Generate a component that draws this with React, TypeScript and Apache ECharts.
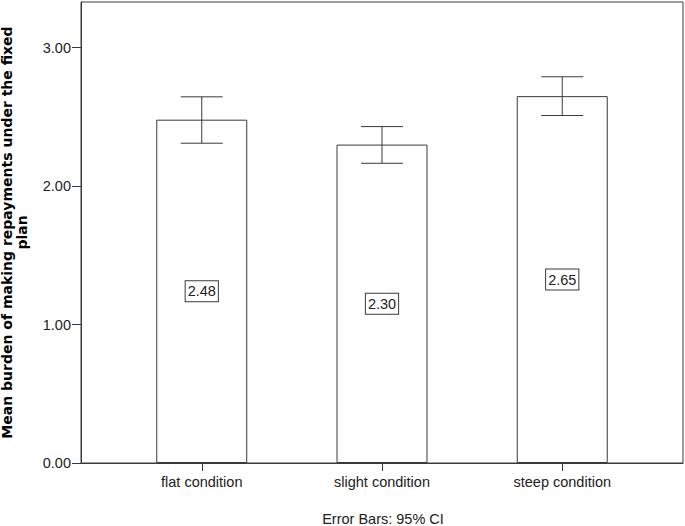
import React, { useEffect, useRef } from "react";
import * as echarts from "echarts";

const categories = ["flat condition", "slight condition", "steep condition"];
const means = [2.48, 2.3, 2.65];
const ciLower = [2.31, 2.165, 2.51];
const ciUpper = [2.645, 2.43, 2.79];
const yTicks = [0, 1, 2, 3];
const yTitle = "Mean burden of making repayments under the fixed\nplan";
const footnote = "Error Bars: 95% CI";

export default function App() {
  const ref = useRef<HTMLDivElement>(null);
  useEffect(() => {
    if (!ref.current) return;
    const chart = echarts.init(ref.current, undefined, { renderer: "svg" });
    const axisColor = "#3a3a3a";
    const textColor = "#222";
    const font = "Liberation Sans";
    chart.setOption({
      animation: false,
      grid: {
        left: 81,
        right: 2,
        top: 2,
        bottom: 63,
        containLabel: false,
        outerBoundsMode: "none",
        show: true,
        borderColor: axisColor,
        borderWidth: 1,
        backgroundColor: "transparent",
      },
      xAxis: {
        type: "value",
        min: -0.67,
        max: 2.67,
        splitLine: { show: false },
        axisLine: { show: true, onZero: false, lineStyle: { color: axisColor, width: 1 } },
        axisTick: {
          show: true,
          length: 8,
          customValues: categories.map((_, i) => i),
          lineStyle: { color: axisColor },
        },
        axisLabel: {
          customValues: categories.map((_, i) => i),
          formatter: (v: number) => categories[Math.round(v)] ?? "",
          margin: 11,
          color: textColor,
          fontFamily: font,
          fontSize: 14.5,
        },
      },
      yAxis: {
        type: "value",
        min: 0,
        max: 3.33,
        interval: 1,
        splitLine: { show: false },
        axisLine: { show: true, onZero: false, lineStyle: { color: axisColor, width: 1 } },
        axisTick: {
          show: true,
          length: 9,
          customValues: yTicks,
          lineStyle: { color: axisColor },
        },
        axisLabel: {
          customValues: yTicks,
          formatter: (v: number) => v.toFixed(2),
          margin: 10,
          color: textColor,
          fontFamily: font,
          fontSize: 14.5,
        },
        name: yTitle,
        nameLocation: "middle",
        nameRotate: 90,
        nameGap: 52,
        nameTextStyle: {
          fontFamily: "DejaVu Sans",
          fontWeight: "bold",
          fontSize: 14,
          lineHeight: 15,
          color: "#000",
          align: "center",
        },
      },
      series: [
        {
          type: "bar",
          data: means.map((m, i) => [i, m]),
          barWidth: 91,
          itemStyle: { color: "#fff", borderColor: axisColor, borderWidth: 1 },
          label: {
            show: true,
            position: "inside",
            formatter: (p: any) => (p.value[1] as number).toFixed(2),
            color: textColor,
            fontFamily: font,
            fontSize: 14.5,
            backgroundColor: "#fff",
            borderColor: axisColor,
            borderWidth: 1,
            padding: [3, 2, 2, 2],
          },
        },
        {
          type: "custom",
          data: means.map((_, i) => [i, ciLower[i], ciUpper[i]]),
          renderItem: (params: any, api: any) => {
            const x = api.value(0);
            const lo = api.coord([x, api.value(1)]);
            const hi = api.coord([x, api.value(2)]);
            const half = 21;
            const style = { stroke: axisColor, lineWidth: 1 };
            return {
              type: "group",
              children: [
                { type: "line", shape: { x1: hi[0], y1: hi[1], x2: lo[0], y2: lo[1] }, style },
                { type: "line", shape: { x1: hi[0] - half, y1: hi[1], x2: hi[0] + half, y2: hi[1] }, style },
                { type: "line", shape: { x1: lo[0] - half, y1: lo[1], x2: lo[0] + half, y2: lo[1] }, style },
              ],
            };
          },
          z: 5,
        },
      ],
      graphic: [
        {
          type: "text",
          x: 383,
          y: 519,
          style: {
            text: footnote,
            textAlign: "center",
            textVerticalAlign: "middle",
            fill: textColor,
            font: `14.5px "${font}"`,
          },
        },
      ],
    });
    return () => chart.dispose();
  }, []);
  return <div ref={ref} style={{ width: 685, height: 526, position: "absolute", left: 0, top: 0 }} />;
}
